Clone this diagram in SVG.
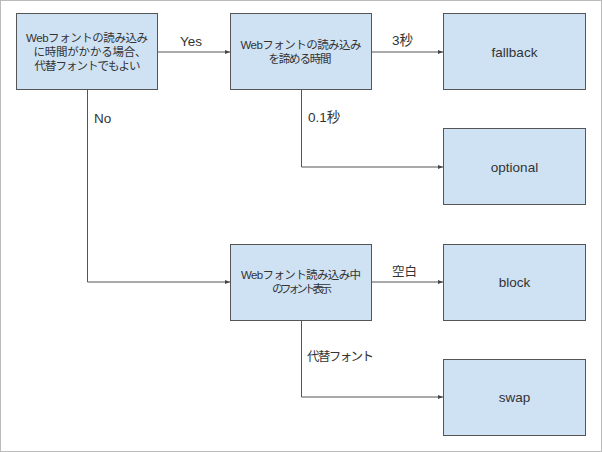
<svg xmlns="http://www.w3.org/2000/svg" width="602" height="452" viewBox="0 0 602 452">
<style>
.box{fill:#cfe2f3;stroke:#555;stroke-width:1}
.t{font-family:"Liberation Sans","Noto Sans CJK JP",sans-serif;font-size:11.5px;fill:#333;text-anchor:middle}
.w{font-family:"Liberation Sans","Noto Sans CJK JP",sans-serif;font-size:13.5px;fill:#333;text-anchor:middle}
.l{font-family:"Liberation Sans","Noto Sans CJK JP",sans-serif;font-size:13.5px;fill:#333}
.j{font-family:"Liberation Sans","Noto Sans CJK JP",sans-serif;font-size:12.5px;fill:#333}
.c{fill:none;stroke:#555;stroke-width:1}
</style>
<defs>
<marker id="a" markerWidth="6" markerHeight="6" refX="5" refY="3" orient="auto" markerUnits="userSpaceOnUse">
<path d="M0,1 L5,3 L0,5 Z" fill="#444"/>
</marker>
</defs>
<rect x="0.5" y="0.5" width="601" height="451" fill="#fff" stroke="#bbb"/>
<g id="connectors">
<path class="c" d="M158,52 H230" marker-end="url(#a)"/>
<path class="c" d="M87.5,90 V282 H230" marker-end="url(#a)"/>
<path class="c" d="M371,52 H443" marker-end="url(#a)"/>
<path class="c" d="M301.5,90 V167 H443" marker-end="url(#a)"/>
<path class="c" d="M371,282 H443" marker-end="url(#a)"/>
<path class="c" d="M301.5,320 V397 H443" marker-end="url(#a)"/>
<text class="l" x="180" y="46">Yes</text>
<text class="l" x="94" y="123">No</text>
<text class="l" x="392" y="45">3秒</text>
<text class="l" x="308" y="122">0.1秒</text>
<text class="j" x="392" y="276">空白</text>
<text class="j" x="307" y="361" textLength="67">代替フォント</text>
</g>
<g id="n1">
<rect class="box" x="16.5" y="13.5" width="141" height="76"/>
<text class="t" x="87" y="42" textLength="122">Webフォントの読み込み</text>
<text class="t" x="90" y="56" textLength="113">に時間がかかる場合、</text>
<text class="t" x="87.5" y="70" textLength="106">代替フォントでもよい</text>
</g>
<g id="n2">
<rect class="box" x="230.5" y="13.5" width="141" height="76"/>
<text class="t" x="301" y="49" textLength="121">Webフォントの読み込み</text>
<text class="t" x="300" y="63" textLength="63">を諦める時間</text>
</g>
<g id="n3">
<rect class="box" x="443.5" y="13.5" width="142" height="76"/>
<text class="w" x="514.5" y="57">fallback</text>
</g>
<g id="n4">
<rect class="box" x="443.5" y="128.5" width="142" height="76"/>
<text class="w" x="514.5" y="172">optional</text>
</g>
<g id="n5">
<rect class="box" x="230.5" y="244.5" width="141" height="76"/>
<text class="t" x="301" y="279" textLength="120">Webフォント読み込み中</text>
<text class="t" x="302" y="293" textLength="60">のフォント表示</text>
</g>
<g id="n6">
<rect class="box" x="443.5" y="244.5" width="142" height="76"/>
<text class="w" x="514.5" y="287">block</text>
</g>
<g id="n7">
<rect class="box" x="443.5" y="359.5" width="142" height="76"/>
<text class="w" x="514.5" y="402">swap</text>
</g>
</svg>
